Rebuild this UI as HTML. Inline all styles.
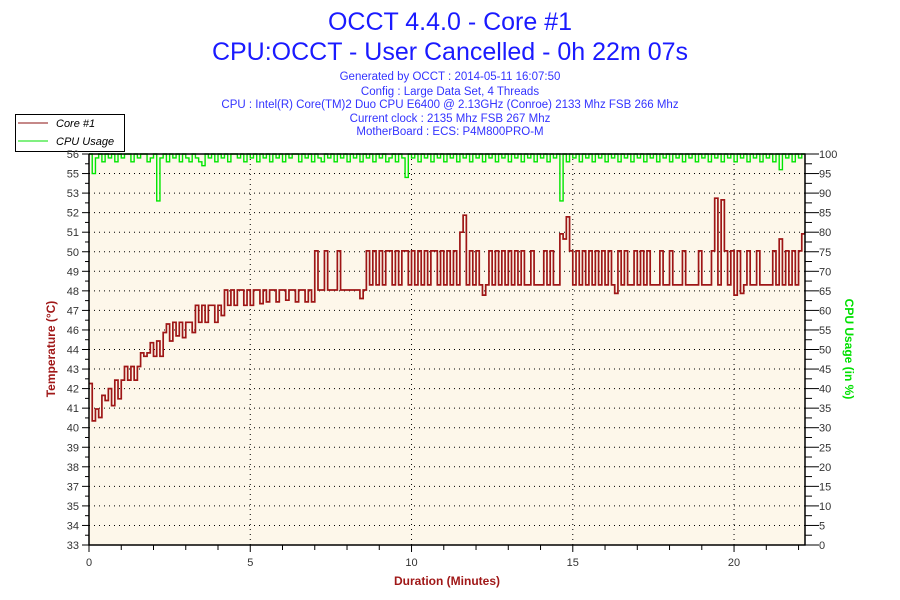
<!DOCTYPE html>
<html><head><meta charset="utf-8"><style>
body{margin:0;background:#fff;}
svg{display:block;font-family:"Liberation Sans",sans-serif;}
</style></head><body>
<svg id="chart" width="900" height="600" viewBox="0 0 900 600" xmlns="http://www.w3.org/2000/svg">
<text x="450" y="30" text-anchor="middle" font-size="25" fill="#1a1aff">OCCT 4.4.0 - Core #1</text>
<text x="450" y="60" text-anchor="middle" font-size="25" fill="#1a1aff">CPU:OCCT - User Cancelled - 0h 22m 07s</text>
<g font-size="11.5" fill="#3333ff" text-anchor="middle">
<text x="450" y="80">Generated by OCCT : 2014-05-11 16:07:50</text>
<text x="450" y="95">Config : Large Data Set, 4 Threads</text>
<text x="450" y="108">CPU : Intel(R) Core(TM)2 Duo CPU E6400 @ 2.13GHz (Conroe) 2133 Mhz FSB 266 Mhz</text>
<text x="450" y="122">Current clock : 2135 Mhz FSB 267 Mhz</text>
<text x="450" y="135">MotherBoard : ECS: P4M800PRO-M</text>
</g>
<g>
<rect x="15.5" y="114.5" width="109" height="37" fill="#fff" stroke="#000"/>
<line x1="18" y1="123" x2="48" y2="123" stroke="#8b1010"/>
<text x="56" y="127" font-size="11" font-style="italic">Core #1</text>
<line x1="18" y1="141" x2="48" y2="141" stroke="#00e000"/>
<text x="56" y="145" font-size="11" font-style="italic">CPU Usage</text>
</g>
<rect x="89" y="154" width="716" height="391" fill="#fdf7ea"/>
<g id="grid"></g>
<g id="series"></g>
<g id="axes"></g>
<text x="447" y="585" text-anchor="middle" font-size="12" font-weight="bold" fill="#a01818">Duration (Minutes)</text>
<text transform="translate(55,349) rotate(-90)" text-anchor="middle" font-size="12" font-weight="bold" fill="#a01818">Temperature (°C)</text>
<text transform="translate(845,349) rotate(90)" text-anchor="middle" font-size="12" font-weight="bold" fill="#00e000">CPU Usage (in %)</text>
</svg>
<script>
const leftTickLabels=["33","34","35","37","38","39","40","41","42","43","44","46","47","48","49","50","51","52","53","55","56"];
const rightTickLabels=["0","5","10","15","20","25","30","35","40","45","50","55","60","65","70","75","80","85","90","95","100"];
const xTickLabels=["0","5","10","15","20"];
const xTickValues=[0,5,10,15,20];
const timeStep=0.1;
const temperature=[
42.5,40.3,41.0,40.5,41.8,41.5,42.2,41.2,42.7,41.6,
42.7,43.5,42.7,43.5,42.7,43.5,44.3,44.1,44.3,44.9,
44.1,45.0,44.1,45.5,46.0,45.0,46.1,45.3,46.1,45.2,
46.1,46.1,45.5,47.1,46.1,47.1,46.1,47.1,47.1,46.1,
47.1,46.5,48.0,47.1,48.0,47.1,48.0,48.0,47.1,48.0,
47.1,48.0,48.0,47.2,48.0,47.3,48.0,48.0,47.3,48.0,
48.0,47.4,48.0,48.0,47.3,48.0,48.0,47.3,48.0,47.3,
50.3,48.0,48.0,50.3,48.0,48.0,48.0,50.3,48.0,48.0,
48.0,48.0,48.0,48.0,47.5,48.0,50.3,48.3,50.3,48.3,
50.3,48.3,50.3,50.3,48.3,50.3,48.3,50.3,50.3,48.3,
50.3,48.3,50.3,48.3,50.3,48.3,50.3,50.3,48.3,50.3,
48.3,50.3,48.3,50.3,48.3,51.4,52.4,48.3,50.3,48.3,
50.3,48.3,47.7,48.3,50.3,48.3,50.3,48.3,50.3,48.3,
50.3,48.3,50.3,48.3,50.3,48.3,48.3,50.3,48.3,48.3,
48.3,50.3,48.3,50.3,48.3,48.3,51.3,51.0,52.3,50.3,
48.3,50.3,48.3,50.3,48.3,50.3,48.3,50.3,48.3,50.3,
48.3,50.3,48.3,47.8,50.3,48.3,50.3,48.3,48.3,50.3,
48.3,50.3,48.3,50.3,48.3,48.3,48.3,50.3,48.3,48.3,
50.3,48.3,48.3,48.3,50.3,48.3,48.3,48.3,48.3,50.3,
48.3,48.3,48.3,50.3,53.4,48.3,53.3,50.3,48.3,50.3,
47.7,50.3,47.8,48.3,50.3,48.3,48.3,50.3,48.3,48.3,
48.3,48.3,50.3,48.3,51.0,48.3,50.3,48.3,50.3,48.3,
50.3,51.3];
const cpuUsage=[
100,95,99,100,98,100,99,100,98,100,
99,100,100,98,100,99,100,100,98,99,
100,88,99,100,98,100,99,100,98,100,
99,98,100,99,98,97,100,99,100,98,
100,99,100,98,100,100,99,100,98,100,
99,100,98,100,99,100,98,100,99,100,
98,100,99,100,100,98,100,99,100,98,
100,99,98,100,99,100,98,100,99,100,
98,100,99,100,98,100,99,100,98,100,
99,100,98,99,100,98,100,99,94,100,
99,100,98,100,99,100,98,100,99,100,
98,100,99,100,98,100,99,100,98,100,
99,100,98,100,99,100,98,100,99,100,
98,100,99,100,98,100,99,100,98,100,
99,100,98,100,99,100,88,100,98,100,
99,100,98,100,99,100,98,100,99,100,
98,100,99,100,98,100,99,100,98,100,
99,100,98,100,99,100,98,100,99,100,
98,100,99,100,98,100,99,100,98,100,
99,100,98,100,99,100,98,100,99,100,
98,100,99,100,98,100,99,100,98,100,
99,100,98,100,96,100,99,100,98,100,
99,100];
const NS='http://www.w3.org/2000/svg';
const X0=89,X1=805,Y0=154,Y1=545,XMAX=22.2;
const xScale=t=>X0+(t/XMAX)*(X1-X0);
const tScale=v=>Y1-(v-33)/23*(Y1-Y0);
const cScale=v=>Y1-v/100*(Y1-Y0);
function mk(tag,attrs,parent){const e=document.createElementNS(NS,tag);for(const k in attrs)e.setAttribute(k,attrs[k]);parent.appendChild(e);return e;}
const grid=document.getElementById('grid'),axes=document.getElementById('axes'),series=document.getElementById('series');
const n=leftTickLabels.length-1;
for(let i=0;i<=n;i++){
  const y=Y1-i*(Y1-Y0)/n;
  if(i>0&&i<n){const g=mk('line',{x1:X0,x2:X1,y1:y,y2:y,stroke:'#000','stroke-dasharray':'1 4'},grid);
  
  }
  const a=mk('line',{x1:X0-7,x2:X0,y1:y,y2:y,stroke:'#000'},axes);
  
  
  const b=mk('line',{x1:X1,x2:X1+14,y1:y,y2:y,stroke:'#000'},axes);
  
  
  if(i<n){const ym=y-(Y1-Y0)/n/2;
    const c=mk('line',{x1:X0-4,x2:X0,y1:ym,y2:ym,stroke:'#000'},axes);
    
    
    const d=mk('line',{x1:X1,x2:X1+7,y1:ym,y2:ym,stroke:'#000'},axes);
    
    }
  const l=mk('text',{x:X0-10,y:y+4,'text-anchor':'end','font-size':'11',fill:'#333'},axes);l.textContent=leftTickLabels[i];
  
  
  const r=mk('text',{x:X1+14,y:y+4,'font-size':'11',fill:'#333'},axes);r.textContent=rightTickLabels[i];
  
  
}
for(let t=0;t<=22;t++){const x=xScale(t);
  const k=mk('line',{x1:x,x2:x,y1:Y1,y2:Y1+(t%5===0?7:5),stroke:'#000'},axes);
  
  }
xTickValues.forEach((v,i)=>{const x=xScale(v);
  if(v>0){const g=mk('line',{x1:x,x2:x,y1:Y0,y2:Y1,stroke:'#000','stroke-dasharray':'1 4'},grid);
  
  }
  const l=mk('text',{x:x,y:Y1+21,'text-anchor':'middle','font-size':'11',fill:'#333'},axes);l.textContent=xTickLabels[i];
  
  });
function stepPath(arr,sc){let d='';arr.forEach((v,i)=>{const x=xScale(i*timeStep),y=sc(v);
  if(i===0)d+='M'+x+' '+y;else d+=' H'+x+' V'+y;});d+=' H'+xScale((arr.length)*timeStep);return d;}
const tp=mk('path',{d:stepPath(temperature,tScale),fill:'none',stroke:'#9e1616','stroke-width':'1.7'},series);


const cp=mk('path',{d:stepPath(cpuUsage,cScale),fill:'none',stroke:'#00e600','stroke-width':'1.4'},series);


const ax=mk('path',{d:`M${X0} ${Y0} V${Y1} H${X1} V${Y0} H${X0}`,fill:'none',stroke:'#000','stroke-width':'1.5'},axes);


</script>
</body></html>
